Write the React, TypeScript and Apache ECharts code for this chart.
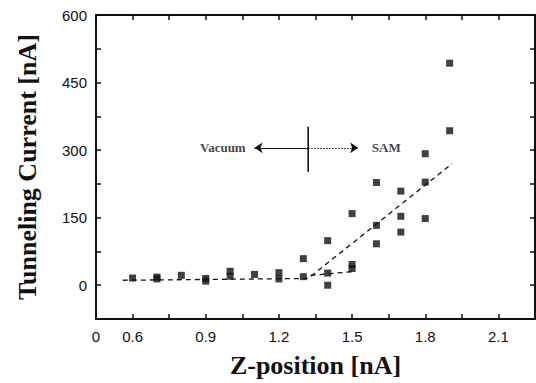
import React, { useEffect, useRef } from "react";
import * as echarts from "echarts";

// Measured points: Z-position [nA] vs Tunneling Current [nA]
const zPos = [0.6, 0.7, 0.7, 0.8, 0.9, 0.9, 1.0, 1.0, 1.1, 1.2, 1.2, 1.3, 1.3, 1.4, 1.4, 1.4, 1.5, 1.5, 1.5, 1.6, 1.6, 1.6, 1.7, 1.7, 1.7, 1.8, 1.8, 1.8, 1.9, 1.9];
const current = [16, 14, 18, 22, 9, 15, 20, 31, 24, 14, 28, 59, 19, 99, 27, 0, 159, 46, 37, 228, 133, 92, 209, 153, 118, 292, 229, 148, 493, 343];

// Dashed guide lines
const fitA = [[0.56, 11], [1.32, 15], [1.91, 270]];
const fitB = [[1.33, 22], [1.5, 30]];

// Annotation (data coordinates)
const crossCenter = [1.32, 305];
const crossVertical = [[1.32, 352], [1.32, 252]];
const vacuumArrowEnd = [1.1, 305];
const samArrowEnd = [1.525, 305];
const annotationTexts = [[0.97, 305, "Vacuum"], [1.64, 305, "SAM"]];

// Axes
const xMin = 0.45;
const xMax = 2.25;
const xStep = 0.15;
const yMin = -75;
const yMax = 600;
const yStep = 75;

const sans = "'Liberation Sans', Arial, sans-serif";
const serif = "'Liberation Serif', 'Times New Roman', serif";
const ink = "#111";

const isMultiple = (v: number, step: number) => Math.abs(v / step - Math.round(v / step)) < 1e-6;

export default function App() {
  const ref = useRef<HTMLDivElement>(null);
  useEffect(() => {
    if (!ref.current) return;
    const chart = echarts.init(ref.current, undefined, { renderer: "svg" });
    const titleStyle = { fontFamily: serif, fontWeight: "bold", fontSize: 26, color: ink };
    const line = { show: true, onZero: false, lineStyle: { color: ink, width: 2 } };
    const tick = { show: true, inside: true, length: 5, lineStyle: { color: ink, width: 1.5 } };
    chart.setOption({
      animation: false,
      grid: { left: 96, top: 15, right: 1, bottom: 63, containLabel: false },
      xAxis: [
        {
          type: "value",
          position: "bottom",
          min: xMin,
          max: xMax,
          interval: xStep,
          axisLine: line,
          axisTick: tick,
          splitLine: { show: false },
          axisLabel: {
            margin: 10,
            fontFamily: sans,
            fontSize: 15,
            color: ink,
            showMinLabel: true,
            showMaxLabel: false,
            formatter: (v: number) =>
              Math.abs(v - xMin) < 1e-6 ? "0" : isMultiple(v, 0.3) && v < 2.2 ? v.toFixed(1) : "",
          },
          name: "Z-position [nA]",
          nameLocation: "middle",
          nameGap: 33,
          nameTextStyle: titleStyle,
        },
        {
          type: "value",
          position: "top",
          min: xMin,
          max: xMax,
          interval: xStep,
          axisLine: line,
          axisTick: tick,
          splitLine: { show: false },
          axisLabel: { show: false },
        },
      ],
      yAxis: [
        {
          type: "value",
          position: "left",
          min: yMin,
          max: yMax,
          interval: yStep,
          axisLine: line,
          axisTick: tick,
          splitLine: { show: false },
          axisLabel: {
            margin: 9,
            fontFamily: sans,
            fontSize: 15,
            color: ink,
            formatter: (v: number) => (v >= 0 && isMultiple(v, 150) ? String(v) : ""),
          },
          name: "Tunneling Current [nA]",
          nameLocation: "middle",
          nameGap: 56,
          nameTextStyle: titleStyle,
        },
        {
          type: "value",
          position: "right",
          min: yMin,
          max: yMax,
          interval: yStep,
          axisLine: line,
          axisTick: tick,
          splitLine: { show: false },
          axisLabel: { show: false },
        },
      ],
      series: [
        {
          type: "line",
          data: fitA,
          symbol: "none",
          lineStyle: { color: ink, width: 1.3, type: [5, 4] },
          silent: true,
          z: 2,
        },
        {
          type: "line",
          data: fitB,
          symbol: "none",
          lineStyle: { color: ink, width: 1.3, type: [5, 4] },
          silent: true,
          z: 2,
        },
        {
          type: "scatter",
          data: zPos.map((z, i) => [z, current[i]]),
          symbol: "rect",
          symbolSize: 7,
          itemStyle: { color: ink },
          z: 3,
        },
        {
          type: "line",
          data: crossVertical,
          symbol: "none",
          lineStyle: { color: ink, width: 1.6 },
          silent: true,
          markLine: {
            silent: true,
            symbol: ["none", "arrow"],
            symbolSize: 8,
            label: { show: false },
            data: [
              [
                { coord: crossCenter, lineStyle: { color: ink, width: 1.2, type: "solid" } },
                { coord: vacuumArrowEnd, itemStyle: { color: ink } },
              ],
              [
                { coord: crossCenter, lineStyle: { color: ink, width: 1, type: [1.5, 1.5] } },
                { coord: samArrowEnd, itemStyle: { color: ink } },
              ],
            ],
          },
        },
        {
          type: "scatter",
          data: annotationTexts,
          symbolSize: 1,
          itemStyle: { color: "rgba(0,0,0,0)" },
          silent: true,
          label: {
            show: true,
            position: "inside",
            formatter: (p: any) => p.value[2],
            fontFamily: serif,
            fontWeight: "bold",
            fontSize: 13,
            color: ink,
          },
        },
      ],
    });
    return () => chart.dispose();
  }, []);
  return <div ref={ref} style={{ width: 536, height: 383, position: "absolute", left: 0, top: 0 }} />;
}
